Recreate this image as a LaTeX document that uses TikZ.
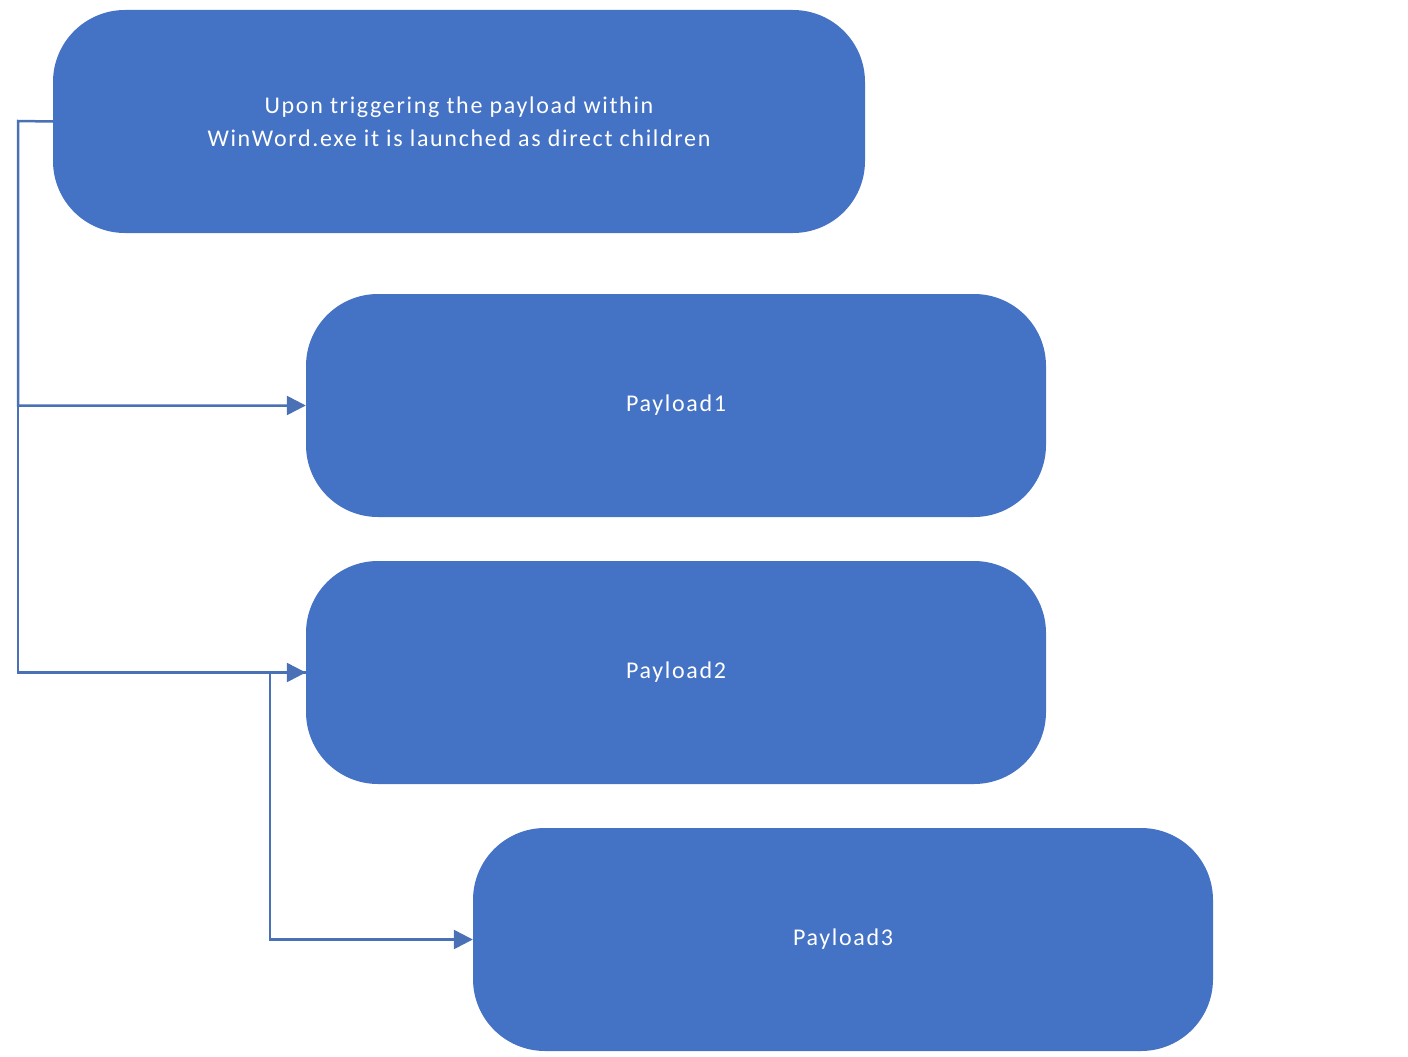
\documentclass[tikz,border=0pt]{standalone}
\usepackage{fontspec}
\setmainfont{Carlito}[LetterSpace=7]
\usetikzlibrary{arrows.meta}
\definecolor{boxblue}{HTML}{4472C4}
\definecolor{lineblue}{HTML}{4A71B5}
\tikzset{
  pbox/.style={fill=boxblue, draw=none, rounded corners=72pt, text=white,
    font=\fontsize{24}{33}\selectfont, align=center, inner sep=0pt},
  conn/.style={draw=lineblue, line width=2.5pt, line join=miter},
  arr/.style={conn, -{Triangle[length=19pt,width=19pt]}}
}
\begin{document}
\begin{tikzpicture}[x=1pt,y=-1pt]
\useasboundingbox (0,0) rectangle (1408,1057);
\node[pbox, minimum width=812pt, minimum height=223pt] (top) at (459,121.5) {Upon triggering the payload within\\WinWord.exe it is launched as direct children};
\node[pbox, minimum width=740pt, minimum height=223pt] (p1) at (676,405.5) {Payload1};
\node[pbox, minimum width=740pt, minimum height=223pt] (p2) at (676,672.5) {Payload2};
\node[pbox, minimum width=740pt, minimum height=223pt] (p3) at (843,939.5) {Payload3};
\coordinate (bend) at (18,121);
\draw[arr] (top.west) -- (bend) |- (p1.west);
\draw[arr] (bend) |- (p2.west);
\draw[arr] (p2.west) -- ++(-36,0) |- (p3.west);
\end{tikzpicture}
\end{document}
